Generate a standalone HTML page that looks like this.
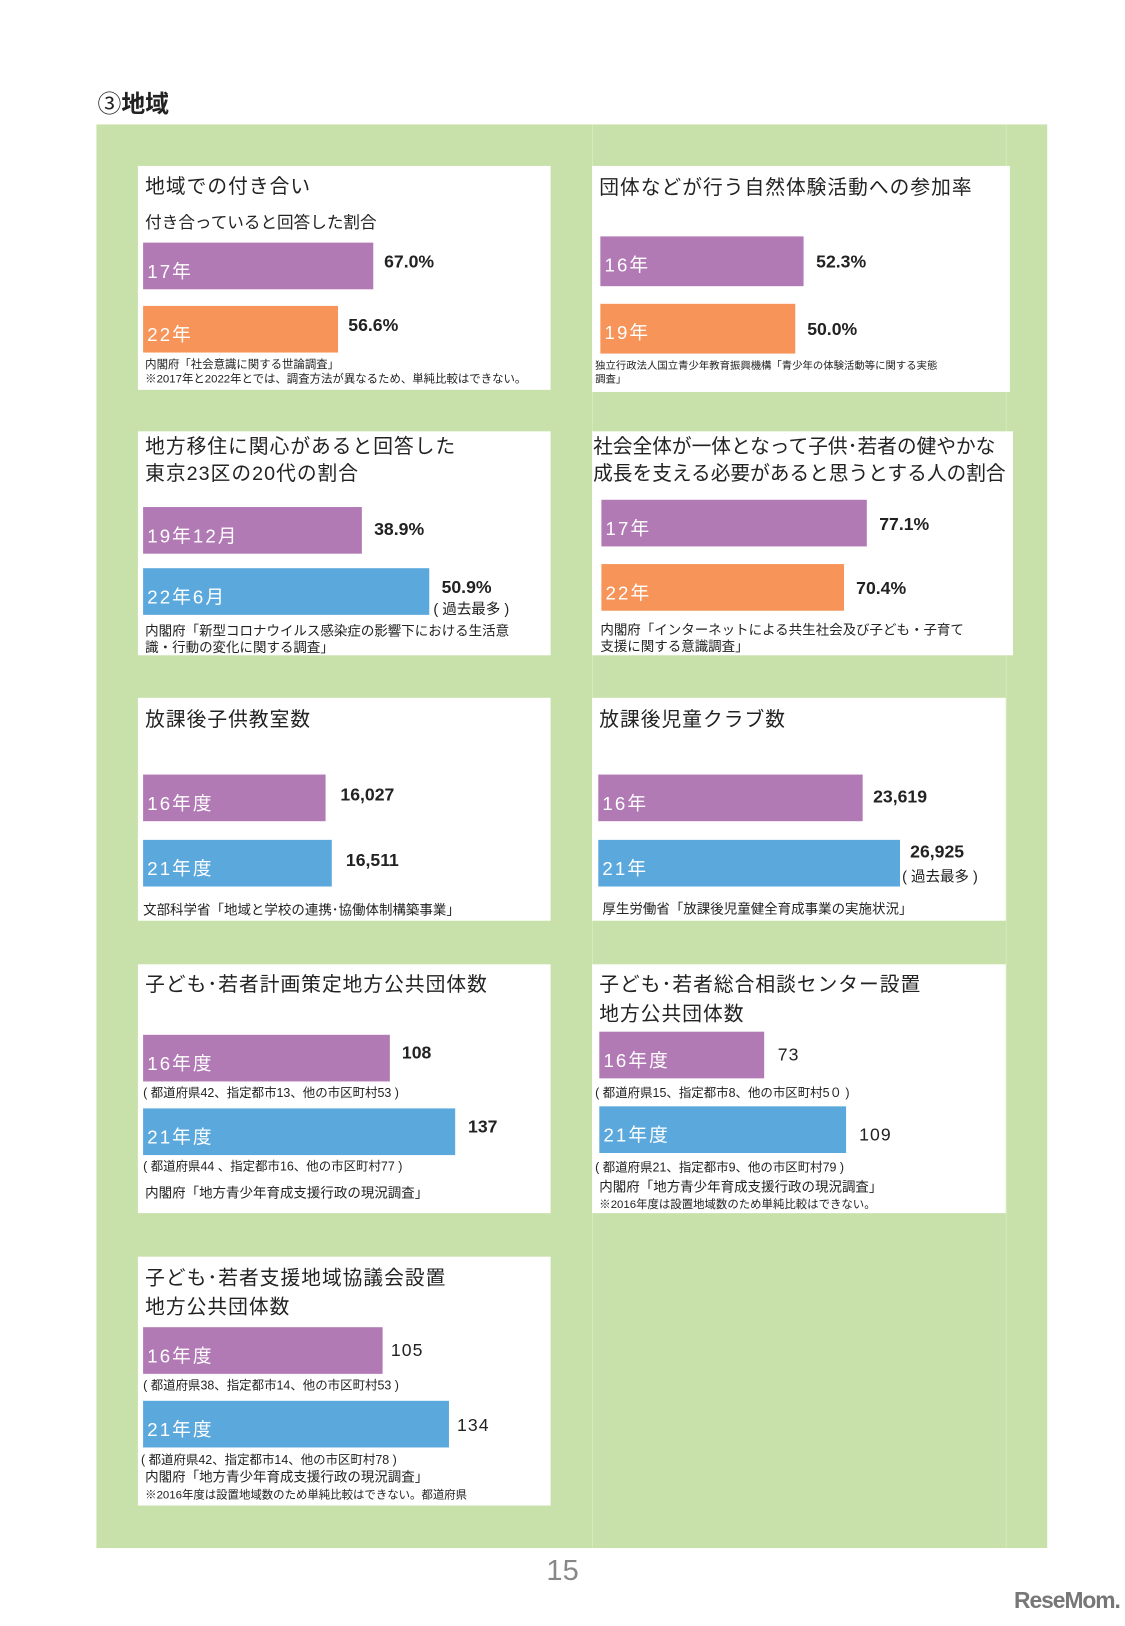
<!DOCTYPE html>
<html><head><meta charset="utf-8">
<style>
html,body{margin:0;padding:0;background:#fff;}
body{width:1125px;height:1625px;overflow:hidden;position:relative;font-family:"Liberation Sans","Noto Sans CJK JP",sans-serif;}
#page{position:absolute;left:0;top:0;width:1085px;height:1568px;transform:scale(1.03687);transform-origin:0 0;}
.abs{position:absolute;white-space:nowrap;}
.green{position:absolute;left:93px;top:120px;width:917px;height:1373px;background:#c8e0a9;}
.vline{position:absolute;background:#d6e9bf;}
.panel{position:absolute;background:#fff;}
.title{position:absolute;font-size:19px;color:#222;letter-spacing:1px;line-height:26px;white-space:nowrap;}
.sub{position:absolute;font-size:16px;color:#222;white-space:nowrap;}
.bar{position:absolute;}
.blab{position:absolute;color:#fff;font-size:18px;letter-spacing:2px;white-space:nowrap;}
.val{position:absolute;font-size:17px;font-weight:bold;color:#222;white-space:nowrap;}
.valn{font-weight:normal;letter-spacing:1px;}
.small{position:absolute;font-size:12px;color:#222;white-space:nowrap;}
.src{position:absolute;font-size:13px;color:#222;white-space:nowrap;line-height:16px;}
</style></head>
<body>
<div id="page">
<div class="abs" style="left:94px;top:81px;font-size:23px;color:#222;">③<b>地域</b></div>
<div class="green"></div>
<div class="vline" style="left:571px;top:120px;width:1px;height:1373px;"></div>
<div class="vline" style="left:970px;top:120px;width:1px;height:1373px;"></div>

<div id="p1" class="panel" style="left:133px;top:160px;width:398px;height:216px;">
 <div class="title" style="left:7px;top:8px;">地域での付き合い</div>
 <div class="sub" style="left:7px;top:41px;">付き合っていると回答した割合</div>
 <div class="src" style="left:7px;top:185px;font-size:11px;line-height:14px;">内閣府「社会意識に関する世論調査」<br>※2017年と2022年とでは、調査方法が異なるため、単純比較はできない。</div>
</div>
<div id="p2" class="panel" style="left:571px;top:160px;width:403px;height:218px;">
 <div class="title" style="left:7px;top:9px;">団体などが行う自然体験活動への参加率</div>
 <div class="src" style="left:3px;top:187px;font-size:10px;line-height:13px;">独立行政法人国立青少年教育振興機構「青少年の体験活動等に関する実態<br>調査」</div>
</div>
<div id="p3" class="panel" style="left:133px;top:416px;width:398px;height:216px;">
 <div class="title" style="left:7px;top:3px;">地方移住に関心があると回答した<br>東京23区の20代の割合</div>
 <div class="small" style="left:285px;top:161px;font-size:14px;">( 過去最多 )</div>
 <div class="src" style="left:7px;top:185px;">内閣府「新型コロナウイルス感染症の影響下における生活意<br>識・行動の変化に関する調査」</div>
</div>
<div id="p4" class="panel" style="left:571px;top:416px;width:406px;height:216px;">
 <div class="title" style="left:1px;top:3px;letter-spacing:0px;">社会全体が一体となって子供･若者の健やかな<br>成長を支える必要があると思うとする人の割合</div>
 <div class="src" style="left:8px;top:184px;">内閣府「インターネットによる共生社会及び子ども・子育て<br>支援に関する意識調査」</div>
</div>
<div id="p5" class="panel" style="left:133px;top:673px;width:398px;height:215px;">
 <div class="title" style="left:7px;top:9px;">放課後子供教室数</div>
 <div class="src" style="left:5px;top:197px;">文部科学省「地域と学校の連携･協働体制構築事業」</div>
</div>
<div id="p6" class="panel" style="left:571px;top:673px;width:399px;height:215px;">
 <div class="title" style="left:7px;top:9px;">放課後児童クラブ数</div>
 <div class="small" style="left:299px;top:162px;font-size:14px;">( 過去最多 )</div>
 <div class="src" style="left:10px;top:196px;">厚生労働省「放課後児童健全育成事業の実施状況」</div>
</div>
<div id="p7" class="panel" style="left:133px;top:930px;width:398px;height:240px;">
 <div class="title" style="left:7px;top:8px;">子ども･若者計画策定地方公共団体数</div>
 <div class="small" style="left:5px;top:115px;">( 都道府県42、指定都市13、他の市区町村53 )</div>
 <div class="small" style="left:5px;top:186px;">( 都道府県44 、指定都市16、他の市区町村77 )</div>
 <div class="src" style="left:7px;top:213px;">内閣府「地方青少年育成支援行政の現況調査」</div>
</div>
<div id="p8" class="panel" style="left:571px;top:930px;width:399px;height:240px;">
 <div class="title" style="left:7px;top:7px;line-height:28px;">子ども･若者総合相談センター設置<br>地方公共団体数</div>
 <div class="small" style="left:3px;top:115px;">( 都道府県15、指定都市8、他の市区町村5０ )</div>
 <div class="small" style="left:3px;top:187px;">( 都道府県21、指定都市9、他の市区町村79 )</div>
 <div class="src" style="left:7px;top:207px;font-size:13px;line-height:16px;">内閣府「地方青少年育成支援行政の現況調査」<br><span style="font-size:11px">※2016年度は設置地域数のため単純比較はできない。</span></div>
</div>
<div id="p9" class="panel" style="left:133px;top:1212px;width:398px;height:240px;">
 <div class="title" style="left:7px;top:8px;line-height:28px;">子ども･若者支援地域協議会設置<br>地方公共団体数</div>
 <div class="small" style="left:5px;top:115px;">( 都道府県38、指定都市14、他の市区町村53 )</div>
 <div class="small" style="left:3px;top:187px;">( 都道府県42、指定都市14、他の市区町村78 )</div>
 <div class="src" style="left:7px;top:205px;font-size:13px;line-height:16px;">内閣府「地方青少年育成支援行政の現況調査」<br><span style="font-size:11px">※2016年度は設置地域数のため単純比較はできない。都道府県</span></div>
</div>

<div class="abs" style="left:527px;top:1499px;font-size:28px;color:#888;">15</div>
<div class="abs" style="left:978px;top:1531px;font-size:22px;font-weight:bold;color:#777;letter-spacing:-1px;">ReseMom.</div>
</div>

<script>
// chart data
const cats1 = ['17年', '22年'];
const vals1 = [67.0, 56.6];
const labels1 = ['67.0%', '56.6%'];
const cats2 = ['16年', '19年'];
const vals2 = [52.3, 50.0];
const labels2 = ['52.3%', '50.0%'];
const cats3 = ['19年12月', '22年6月'];
const vals3 = [38.9, 50.9];
const labels3 = ['38.9%', '50.9%'];
const cats4 = ['17年', '22年'];
const vals4 = [77.1, 70.4];
const labels4 = ['77.1%', '70.4%'];
const cats5 = ['16年度', '21年度'];
const vals5 = [16027, 16511];
const labels5 = ['16,027', '16,511'];
const cats6 = ['16年', '21年'];
const vals6 = [23619, 26925];
const labels6 = ['23,619', '26,925'];
const cats7 = ['16年度', '21年度'];
const vals7 = [108, 137];
const labels7 = ['108', '137'];
const cats8 = ['16年度', '21年度'];
const vals8 = [73, 109];
const labels8 = ['73', '109'];
const cats9 = ['16年度', '21年度'];
const vals9 = [105, 134];
const labels9 = ['105', '134'];

const PURPLE = '#b27ab5', ORANGE = '#f6945a', BLUE = '#5ba8dd';

function draw(pid, cats, vals, labels, cfg) {
  const panel = document.getElementById(pid);
  const xScale = v => v * cfg.k;
  cats.forEach((c, i) => {
    const w = xScale(vals[i]);
    const y = cfg.ys[i];
    const bar = document.createElement('div');
    bar.className = 'bar';
    
    
    bar.style.left = cfg.x0 + 'px';
    bar.style.top = y + 'px';
    bar.style.width = w + 'px';
    bar.style.height = cfg.h + 'px';
    bar.style.background = cfg.colors[i];
    panel.appendChild(bar);
    const lab = document.createElement('div');
    lab.className = 'blab';
    
    
    lab.textContent = c;
    lab.style.left = (cfg.x0 + 4) + 'px';
    lab.style.top = (y + 14) + 'px';
    panel.appendChild(lab);
    const v = document.createElement('div');
    v.className = 'val' + (cfg.normal ? ' valn' : '');
    
    
    v.textContent = labels[i];
    v.style.left = (cfg.x0 + w + cfg.gap) + 'px';
    v.style.top = (y + cfg.vdy[i]) + 'px';
    panel.appendChild(v);
  });
}
draw('p1', cats1, vals1, labels1, {x0:5, k:3.32, h:45, ys:[74,135], colors:[PURPLE,ORANGE], gap:10, vdy:[9,9]});
draw('p2', cats2, vals2, labels2, {x0:8, k:3.75, h:48, ys:[68,133], colors:[PURPLE,ORANGE], gap:12, vdy:[15,15]});
draw('p3', cats3, vals3, labels3, {x0:5, k:5.42, h:45, ys:[73,132], colors:[PURPLE,BLUE], gap:12, vdy:[12,9]});
draw('p4', cats4, vals4, labels4, {x0:9, k:3.32, h:45, ys:[66,128], colors:[PURPLE,ORANGE], gap:12, vdy:[14,14]});
draw('p5', cats5, vals5, labels5, {x0:5, k:0.011, h:45, ys:[74,137], colors:[PURPLE,BLUE], gap:14, vdy:[10,10]});
draw('p6', cats6, vals6, labels6, {x0:6, k:0.0108, h:45, ys:[74,137], colors:[PURPLE,BLUE], gap:10, vdy:[12,2]});
draw('p7', cats7, vals7, labels7, {x0:5, k:2.2, h:45, ys:[68,139], colors:[PURPLE,BLUE], gap:12, vdy:[8,8]});
draw('p8', cats8, vals8, labels8, {x0:7, k:2.18, h:45, ys:[65,137], colors:[PURPLE,BLUE], gap:13, vdy:[13,18], normal:true});
draw('p9', cats9, vals9, labels9, {x0:5, k:2.2, h:45, ys:[68,139], colors:[PURPLE,BLUE], gap:8, vdy:[13,14], normal:true});
</script>
</body></html>
